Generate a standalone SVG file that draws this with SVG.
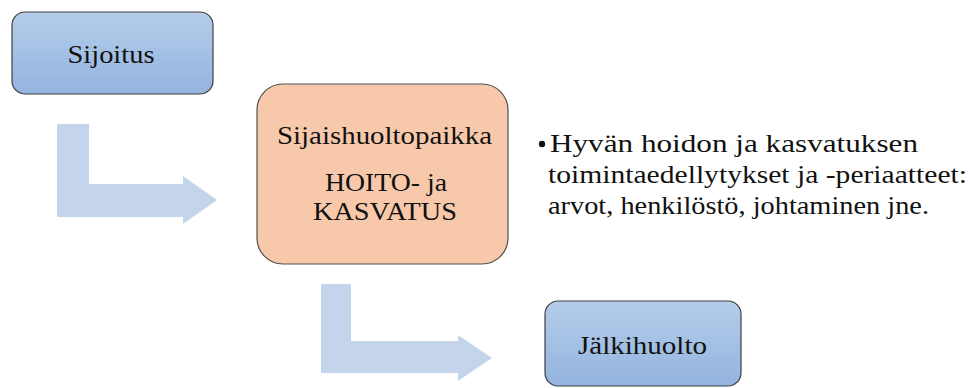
<svg xmlns="http://www.w3.org/2000/svg" width="970" height="388" viewBox="0 0 970 388">
  <style>
    .t { font-family: "Liberation Serif", "DejaVu Serif", serif; font-size: 25.5px; fill: #111; }
    .blue { fill: url(#gBlue); stroke: #3f3f3f; stroke-width: 1.2; }
    .peach { fill: #F7C9AA; stroke: #505050; stroke-width: 1.2; }
    .arrow { fill: #C4D5EB; }
  </style>
  <defs>
    <linearGradient id="gBlue" x1="0" y1="0" x2="0" y2="1">
      <stop offset="0" stop-color="#B5CDEA"/>
      <stop offset="1" stop-color="#93B4DF"/>
    </linearGradient>
  </defs>
  <rect width="970" height="388" fill="#ffffff"/>
  <g id="connectors">
    <path class="arrow" d="M57,124 H89 V184 H183 V176 L217,200 L183,224 V217 H57 Z"/>
    <path class="arrow" d="M321,284 H351 V341 H458 V335 L492,358 L458,381 V373 H321 Z"/>
  </g>
  <g id="sijoitus">
    <rect class="blue" x="12" y="12" width="201" height="82" rx="13"/>
    <text class="t" x="111" y="63" text-anchor="middle" textLength="87" lengthAdjust="spacingAndGlyphs">Sijoitus</text>
  </g>
  <g id="sijaishuoltopaikka">
    <rect class="peach" x="257" y="84" width="251" height="180" rx="26"/>
    <text class="t" x="384.5" y="144" text-anchor="middle" textLength="215" lengthAdjust="spacingAndGlyphs">Sijaishuoltopaikka</text>
    <text class="t" x="386" y="191" text-anchor="middle" textLength="122" lengthAdjust="spacingAndGlyphs">HOITO- ja</text>
    <text class="t" x="385" y="220" text-anchor="middle" textLength="144" lengthAdjust="spacingAndGlyphs">KASVATUS</text>
  </g>
  <g id="jalkihuolto">
    <rect class="blue" x="545" y="301" width="196" height="85" rx="13"/>
    <text class="t" x="642.5" y="354" text-anchor="middle" textLength="129" lengthAdjust="spacingAndGlyphs">Jälkihuolto</text>
  </g>
  <g id="description">
    <circle cx="542" cy="144" r="3.2" fill="#111"/>
    <text class="t" x="550" y="151.5" textLength="368" lengthAdjust="spacingAndGlyphs">Hyvän hoidon ja kasvatuksen</text>
    <text class="t" x="548" y="183" textLength="419" lengthAdjust="spacingAndGlyphs">toimintaedellytykset ja -periaatteet:</text>
    <text class="t" x="548" y="213.5" textLength="381" lengthAdjust="spacingAndGlyphs">arvot, henkilöstö, johtaminen jne.</text>
  </g>
</svg>
